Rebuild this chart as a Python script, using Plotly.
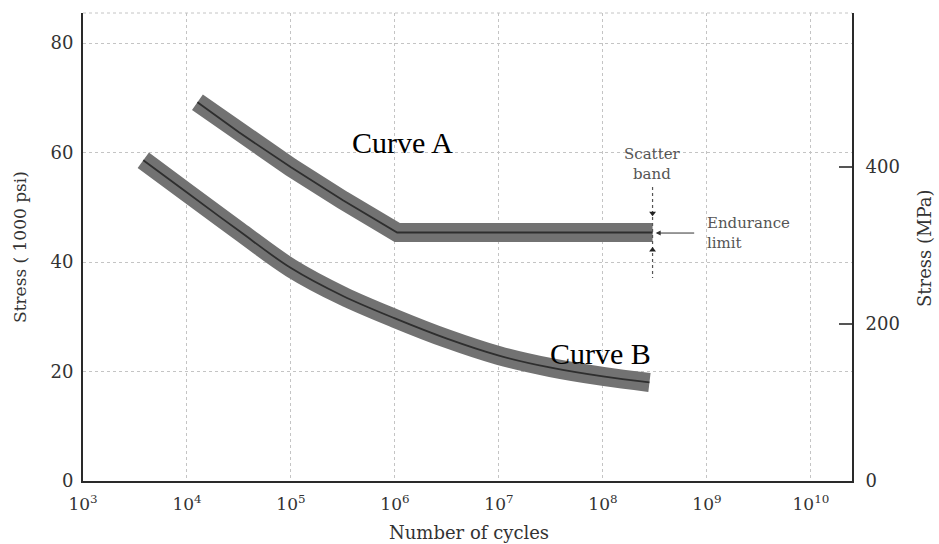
import numpy as np
import plotly.graph_objects as go

# ---- data ----
curveA_cycles = [1.26e4, 3.16e4, 1.0e5, 3.16e5, 1.05e6, 3.0e8]
curveA_stress = [69.2, 63.7, 57.3, 51.3, 45.4, 45.4]

curveB_cycles = [3.8e3, 1.0e4, 3.16e4, 1.0e5, 3.16e5, 1.0e6, 3.16e6, 1.0e7, 3.16e7, 1.0e8, 2.8e8]
curveB_stress = [58.6, 52.7, 45.7, 38.9, 33.8, 29.7, 26.0, 22.9, 20.7, 19.1, 18.0]

endurance_cycles = 3.0e8
scatter_band_marks = [48.9, 42.2]      # small arrow marks above / below band
scatter_band_extent = [53.7, 37.1]     # dotted vertical line extent
endurance_limit = 45.3

x_tick_exps = [3, 4, 5, 6, 7, 8, 9, 10]
x_tick_labels = [f"10<sup>{e}</sup>" for e in x_tick_exps]
ksi_ticks = [0, 20, 40, 60, 80]
mpa_ticks = [0, 200, 400]

band_color = "#727272"
core_color = "#2e2e2e"
serif = "DejaVu Serif"
times = "Liberation Serif"

W, H = 939, 544
ML, MR, MT, MB = 83, 87, 13, 63

fig = go.Figure()

for cx, cy, shp in [(curveA_cycles, curveA_stress, "linear"), (curveB_cycles, curveB_stress, "spline")]:
    fig.add_trace(go.Scatter(x=cx, y=cy, mode="lines",
                             line=dict(color=band_color, width=19, shape=shp, smoothing=1.0),
                             hoverinfo="skip", showlegend=False))
    fig.add_trace(go.Scatter(x=cx, y=cy, mode="lines",
                             line=dict(color=core_color, width=1.8, shape=shp, smoothing=1.0),
                             hoverinfo="skip", showlegend=False))

# scatter band indicator
fig.add_trace(go.Scatter(x=[endurance_cycles, endurance_cycles], y=scatter_band_extent,
                         mode="lines", line=dict(color="#555555", width=1.2, dash="dot"),
                         hoverinfo="skip", showlegend=False))
fig.add_trace(go.Scatter(x=[endurance_cycles, endurance_cycles], y=scatter_band_marks,
                         mode="markers",
                         marker=dict(symbol=["triangle-down", "triangle-up"], size=6, color="#222222"),
                         hoverinfo="skip", showlegend=False))

# invisible trace to activate right axis
fig.add_trace(go.Scatter(x=[1e3] * len(mpa_ticks), y=mpa_ticks, yaxis="y2", mode="markers",
                         marker=dict(opacity=0), hoverinfo="skip", showlegend=False))

fig.update_layout(
    width=W, height=H,
    margin=dict(l=ML, r=MR, t=MT, b=MB, autoexpand=False),
    paper_bgcolor="white", plot_bgcolor="white",
    xaxis=dict(type="log", range=[3, 10.395], automargin=False,
               tickvals=[10 ** e for e in x_tick_exps], ticktext=x_tick_labels,
               showgrid=True, gridcolor="#c4c4c4", griddash="dot", gridwidth=1,
               showline=True, linecolor="#2a2a2a", linewidth=2,
               ticks="", ticklabelstandoff=7,
               tickfont=dict(family=serif, size=17, color="#333333"),
               zeroline=False),
    yaxis=dict(range=[0, 85.5], tickvals=ksi_ticks, automargin=False,
               showgrid=True, gridcolor="#c4c4c4", griddash="dot", gridwidth=1,
               showline=True, linecolor="#2a2a2a", linewidth=2,
               ticks="", ticklabelstandoff=4,
               tickfont=dict(family=serif, size=18, color="#333333"),
               zeroline=False),
    yaxis2=dict(overlaying="y", side="right", range=[0, 596], tickvals=mpa_ticks, automargin=False,
                showgrid=False, showline=True, linecolor="#2a2a2a", linewidth=2,
                ticks="inside", ticklen=13, tickcolor="#555555", tickwidth=1.5,
                ticklabelstandoff=8,
                tickfont=dict(family=serif, size=18, color="#333333"),
                zeroline=False),
)

# faint dotted top border
fig.add_shape(type="line", xref="paper", yref="paper", x0=0, x1=1, y0=1, y1=1,
              line=dict(color="#c4c4c4", width=1, dash="dot"))

ann = []
def data_text(x, y, text, font, xanchor="center", align="center"):
    ann.append(dict(x=x, y=y, xref="x", yref="y", text=text, showarrow=False,
                    xanchor=xanchor, yanchor="middle", align=align, font=font))

data_text(np.log10(1.17e6), 61.9, "Curve A", dict(family=times, size=30, color="black"))
data_text(np.log10(9.5e7), 23.3, "Curve B", dict(family=times, size=30, color="black"))
data_text(np.log10(endurance_cycles), 58.0, "Scatter<br>band",
          dict(family=serif, size=15, color="#555555"))
data_text(np.log10(endurance_cycles) + 0.5, endurance_limit, "Endurance<br>limit",
          dict(family=serif, size=15, color="#555555"), xanchor="left", align="left")
ann.append(dict(x=np.log10(endurance_cycles) + 0.03, y=endurance_limit, xref="x", yref="y",
                text="", showarrow=True, ax=40, ay=0, axref="pixel", ayref="pixel",
                arrowhead=2, arrowsize=1, arrowwidth=1, arrowcolor="#333333"))

pw = W - ML - MR
ph = H - MT - MB
def px_text(px, py, text, size, angle=0):
    ann.append(dict(x=(px - ML) / pw, y=(H - MB - py) / ph, xref="paper", yref="paper",
                    text=text, showarrow=False, textangle=angle,
                    xanchor="center", yanchor="middle",
                    font=dict(family=serif, size=size, color="#333333")))

px_text(20, 247, "Stress ( 1000 psi)", 17, -90)
px_text(924, 248, "Stress (MPa)", 18, -90)
px_text(469, 532, "Number of cycles", 18)

fig.update_layout(annotations=ann)
fig.write_html("out.html", config={"displayModeBar": False},
               post_script="document.body.style.margin='0';")
